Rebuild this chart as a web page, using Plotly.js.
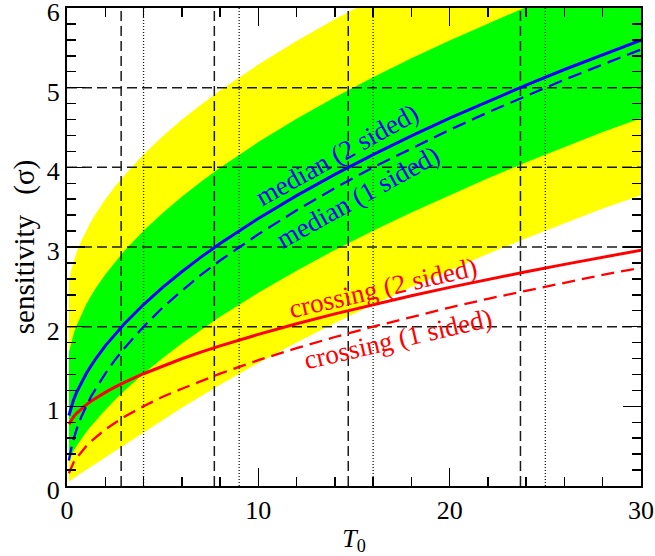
<!DOCTYPE html>
<html><head><meta charset="utf-8">
<script src="https://cdn.plot.ly/plotly-3.0.1.min.js"></script>
<style>html,body{margin:0;padding:0;background:#fff}</style>
</head><body><div id="chart" style="width:655px;height:556px"></div>
<script>
// T0 grid
const T0 = [0.1, 0.2, 0.35, 0.5, 0.75, 1, 1.25, 1.5, 2, 2.5, 3, 4, 5, 6, 7, 8, 10, 12, 14, 16, 18, 20, 22, 24, 26, 28, 30];
// median (1 sided)
const median1 = [0.32, 0.45, 0.59, 0.71, 0.87, 1.00, 1.12, 1.22, 1.41, 1.58, 1.73, 2.00, 2.24, 2.45, 2.65, 2.83, 3.16, 3.46, 3.74, 4.00, 4.24, 4.47, 4.69, 4.90, 5.10, 5.29, 5.48];
// median (2 sided)
const median2 = [0.885, 0.979, 1.087, 1.175, 1.301, 1.409, 1.507, 1.597, 1.759, 1.903, 2.037, 2.278, 2.493, 2.689, 2.873, 3.043, 3.358, 3.645, 3.911, 4.160, 4.395, 4.618, 4.830, 5.033, 5.228, 5.417, 5.598];
// crossing (1 sided)
const crossing1 = [0.16, 0.22, 0.30, 0.35, 0.43, 0.50, 0.56, 0.61, 0.71, 0.79, 0.87, 1.00, 1.12, 1.22, 1.32, 1.41, 1.58, 1.73, 1.87, 2.00, 2.12, 2.24, 2.35, 2.45, 2.55, 2.65, 2.74];
// crossing (2 sided)
const crossing2 = [0.777, 0.821, 0.871, 0.912, 0.969, 1.018, 1.063, 1.103, 1.175, 1.241, 1.301, 1.409, 1.507, 1.597, 1.680, 1.759, 1.903, 2.037, 2.161, 2.278, 2.388, 2.493, 2.593, 2.689, 2.782, 2.873, 2.960];
// +-1 sigma band (green)
const greenUpper = [1.675, 1.787, 1.913, 2.015, 2.157, 2.278, 2.385, 2.483, 2.656, 2.811, 2.953, 3.205, 3.427, 3.631, 3.819, 3.995, 4.317, 4.610, 4.880, 5.132, 5.369, 5.593, 5.807, 6.012, 6.208, 6.398, 6.580];
const greenLower = [0.315, 0.372, 0.442, 0.503, 0.593, 0.674, 0.750, 0.822, 0.955, 1.079, 1.195, 1.409, 1.606, 1.789, 1.960, 2.123, 2.425, 2.703, 2.963, 3.205, 3.433, 3.652, 3.862, 4.063, 4.256, 4.442, 4.615];
// +-2 sigma band (yellow)
const yellowUpper = [2.566, 2.688, 2.821, 2.930, 3.078, 3.205, 3.318, 3.416, 3.597, 3.757, 3.902, 4.160, 4.389, 4.596, 4.787, 4.964, 5.290, 5.586, 5.858, 6.112, 6.352, 6.577, 6.79, 6.99, 7.19, 7.38, 7.57];
const yellowLower = [0.058, 0.076, 0.100, 0.123, 0.162, 0.200, 0.239, 0.278, 0.357, 0.437, 0.516, 0.674, 0.830, 0.981, 1.128, 1.271, 1.544, 1.801, 2.046, 2.278, 2.499, 2.710, 2.914, 3.110, 3.299, 3.482, 3.650];
// reference lines
const gridY = [2, 3, 4, 5];
const dashedX = [2.83, 7.7, 14.7, 23.7];
const dottedX = [4, 9, 16, 25];
const xRange = [0, 30];
const yRange = [0, 6];
const xTicks = [0, 10, 20, 30];
const yTicks = [0, 1, 2, 3, 4, 5, 6];
// labels
const labels = [
  {text: 'median (2 sided)', x: 14.1, y: 4.16, angle: -29, color: '#0000ff'},
  {text: 'median (1 sided)', x: 15.2, y: 3.63, angle: -29, color: '#0000ff'},
  {text: 'crossing (2 sided)', x: 16.5, y: 2.48, angle: -13, color: '#ff0000'},
  {text: 'crossing (1 sided)', x: 17.3, y: 1.85, angle: -13, color: '#ff0000'}
];

const serif = '"Liberation Serif", "Times New Roman", serif';

function hLines(vals) {
  const x = [], y = [];
  vals.forEach(v => { x.push(xRange[0], xRange[1], null); y.push(v, v, null); });
  return {x, y};
}
function vLines(vals) {
  const x = [], y = [];
  vals.forEach(v => { x.push(v, v, null); y.push(yRange[0], yRange[1], null); });
  return {x, y};
}

const h = hLines(gridY), vd = vLines(dashedX), vo = vLines(dottedX);
const gridCol = '#1a1a1a';

const traces = [
  {x: T0, y: yellowLower, mode: 'lines', line: {width: 0, color: '#ffff00'}, hoverinfo: 'skip'},
  {x: T0, y: yellowUpper, mode: 'lines', fill: 'tonexty', fillcolor: '#ffff00', line: {width: 0, color: '#ffff00'}, hoverinfo: 'skip'},
  {x: T0, y: greenLower, mode: 'lines', line: {width: 0, color: '#00ff00'}, hoverinfo: 'skip'},
  {x: T0, y: greenUpper, mode: 'lines', fill: 'tonexty', fillcolor: '#00ff00', line: {width: 0, color: '#00ff00'}, hoverinfo: 'skip'},
  {x: h.x, y: h.y, mode: 'lines', line: {color: gridCol, width: 1.5, dash: '10px,5px'}, connectgaps: false},
  {x: vd.x, y: vd.y, mode: 'lines', line: {color: gridCol, width: 1.5, dash: '10px,5px'}, connectgaps: false},
  {x: vo.x, y: vo.y, mode: 'lines', line: {color: gridCol, width: 1.3, dash: '1px,2px'}, connectgaps: false},
  {x: T0, y: crossing1, mode: 'lines', line: {color: '#ff0000', width: 2.3, dash: '13px,7px'}},
  {x: T0, y: crossing2, mode: 'lines', line: {color: '#ff0000', width: 3}},
  {x: T0, y: median1, mode: 'lines', line: {color: '#0000ff', width: 2.3, dash: '14px,7px'}},
  {x: T0, y: median2, mode: 'lines', line: {color: '#0000ff', width: 3}},
  // invisible trace so the top / right minor-tick axes are drawn
  {x: xRange, y: yRange, xaxis: 'x2', yaxis: 'y2', mode: 'lines', line: {width: 0}, opacity: 0, hoverinfo: 'skip'}
];

const tickStyle = {
  showgrid: false, zeroline: false, showline: true, linecolor: 'black', linewidth: 2,
  ticks: 'inside', ticklen: 18, tickwidth: 1.5, tickcolor: 'black', mirror: 'ticks',
  ticklabeloverflow: 'allow',
  tickfont: {family: serif, size: 26, color: 'black'}
};
const minorStyle = {
  showgrid: false, zeroline: false, showline: false, showticklabels: false,
  ticks: 'inside', ticklen: 9, tickwidth: 1.5, tickcolor: 'black', tickmode: 'linear', tick0: 0
};

const layout = {
  width: 655, height: 556,
  margin: {l: 67, r: 14, t: 8, b: 70},
  paper_bgcolor: 'white', plot_bgcolor: 'white',
  showlegend: false, hovermode: false,
  xaxis: Object.assign({}, tickStyle, {
    range: xRange, tickmode: 'array', tickvals: xTicks, ticktext: xTicks.map(String),
    minor: {dtick: 2, tick0: 0, ticks: 'inside', ticklen: 9, tickwidth: 1.5, tickcolor: 'black', showgrid: false},
    title: {text: '<i>T</i><sub>0</sub>', font: {family: serif, size: 26, color: 'black'}, standoff: 10}
  }),
  yaxis: Object.assign({}, tickStyle, {
    range: yRange, tickmode: 'array', tickvals: yTicks, ticktext: yTicks.map(String),
    ticklabelshift: 4,
    minor: {dtick: 0.2, tick0: 0, ticks: 'inside', ticklen: 9, tickwidth: 1.5, tickcolor: 'black', showgrid: false},
    title: {text: 'sensitivity\u00a0\u00a0\u2009(\u03c3)', font: {family: serif, size: 29, color: 'black'}, standoff: 4}
  }),
  xaxis2: Object.assign({}, minorStyle, {overlaying: 'x', side: 'top', anchor: 'y2', range: xRange, dtick: 2}),
  yaxis2: Object.assign({}, minorStyle, {overlaying: 'y', side: 'right', anchor: 'x2', range: yRange, dtick: 0.2}),
  annotations: labels.map(l => ({
    text: l.text, x: l.x, y: l.y, xref: 'x', yref: 'y', showarrow: false,
    textangle: l.angle, xanchor: 'center', yanchor: 'middle',
    font: {family: serif, size: 27, color: l.color}
  }))
};

Plotly.newPlot('chart', traces, layout, {displayModeBar: false, staticPlot: true});
</script>
</body></html>
